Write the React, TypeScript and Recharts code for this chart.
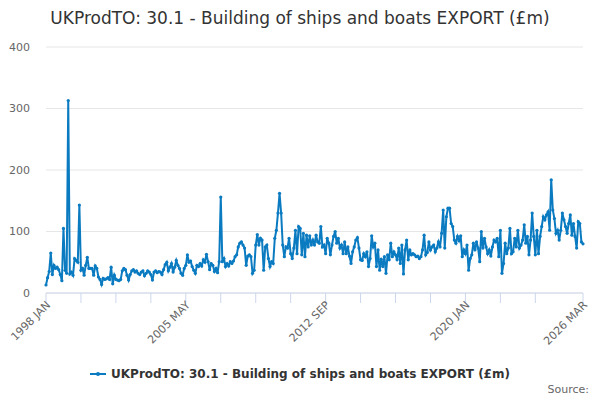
import React from "react";
import { LineChart, Line, XAxis, YAxis, CartesianGrid } from "recharts";

const TITLE = "UKProdTO: 30.1 - Building of ships and boats EXPORT (£m)";
const SERIES_NAME = "UKProdTO: 30.1 - Building of ships and boats EXPORT (£m)";
const MONTHS = ["JAN", "FEB", "MAR", "APR", "MAY", "JUN", "JUL", "AUG", "SEP", "OCT", "NOV", "DEC"];
const START_YEAR = 1998;

const values: number[] = [
  // 1998
  13, 25, 35, 65, 30, 45, 40, 42, 38, 30, 20, 105,
  // 1999
  37, 32, 313, 31, 34, 29, 56, 53, 50, 143, 37, 40,
  // 2000
  29, 45, 58, 40, 40, 40, 29, 44, 40, 26, 22, 14,
  // 2001
  24, 22, 23, 25, 22, 42, 15, 29, 22, 21, 20, 22,
  // 2002
  36, 40, 38, 29, 21, 30, 36, 38, 34, 36, 32, 30,
  // 2003
  34, 36, 28, 32, 36, 34, 30, 21, 34, 36, 33, 35,
  // 2004
  34, 30, 38, 46, 50, 36, 42, 48, 34, 42, 53, 45,
  // 2005
  40, 32, 29, 40, 45, 62, 50, 52, 43, 37, 32, 45,
  // 2006
  43, 48, 44, 54, 50, 63, 51, 38, 48, 45, 35, 40,
  // 2007
  33, 51, 156, 51, 56, 43, 48, 44, 51, 48, 52, 59,
  // 2008
  62, 75, 81, 83, 78, 73, 45, 60, 62, 59, 32, 37,
  // 2009
  78, 95, 78, 89, 86, 37, 75, 78, 56, 43, 51, 48,
  // 2010
  89, 102, 130, 162, 130, 78, 59, 75, 73, 89, 64, 56,
  // 2011
  73, 102, 64, 108, 105, 62, 97, 59, 94, 75, 93, 78,
  // 2012
  86, 78, 94, 83, 81, 108, 75, 78, 64, 89, 81, 62,
  // 2013
  78, 92, 100, 81, 89, 73, 78, 64, 83, 64, 75, 60,
  // 2014
  48, 67, 75, 86, 90, 73, 54, 53, 64, 59, 67, 43,
  // 2015
  56, 93, 75, 81, 43, 70, 37, 55, 43, 59, 32, 62,
  // 2016
  54, 81, 59, 67, 62, 54, 73, 48, 78, 31, 70, 86,
  // 2017
  54, 70, 62, 64, 62, 59, 60, 56, 59, 70, 94, 62,
  // 2018
  66, 83, 70, 75, 78, 67, 73, 83, 75, 97, 135, 73,
  // 2019
  124, 138, 138, 113, 108, 86, 81, 92, 85, 93, 59, 70,
  // 2020
  64, 78, 37, 56, 62, 81, 70, 83, 73, 51, 100, 73,
  // 2021
  89, 75, 64, 70, 60, 75, 86, 83, 89, 59, 102, 32,
  // 2022
  48, 81, 64, 73, 105, 64, 67, 89, 75, 102, 73, 78,
  // 2023
  86, 111, 81, 92, 62, 86, 130, 92, 62, 102, 64, 92,
  // 2024
  108, 124, 119, 127, 132, 102, 184, 135, 121, 97, 102, 86,
  // 2025
  102, 130, 119, 108, 97, 113, 127, 94, 113, 92, 73, 116,
  // 2026
  113, 83, 80,
];

const categories: string[] = values.map(
  (_, i) => `${START_YEAR + Math.floor(i / 12)} ${MONTHS[i % 12]}`
);

const tickLabels = ["1998 JAN", "2005 MAY", "2012 SEP", "2020 JAN", "2026 MAR"];
const tickMarks = [
  "1998 JAN", "1999 NOV", "2001 SEP", "2003 JUL", "2005 MAY", "2007 MAR", "2009 JAN", "2010 NOV",
  "2012 SEP", "2014 JUL", "2016 MAY", "2018 MAR", "2020 JAN", "2021 NOV", "2023 SEP", "2026 MAR",
];
const yTicks = [0, 100, 200, 300, 400];

const data = categories.map((label, i) => ({ label, value: values[i] }));

const COLOR = "#0b7bc1";
const FONT = "'DejaVu Sans', sans-serif";

const XTick = (props: any) => {
  const { x, y, payload } = props;
  if (!tickLabels.includes(payload.value)) return <g />;
  return (
    <text
      x={x}
      y={y}
      transform={`rotate(-45, ${x}, ${y})`}
      textAnchor="end"
      fontSize={11}
      fill="#666666"
      fontFamily={FONT}
      dy={4}
      dx={3}
    >
      {payload.value}
    </text>
  );
};

export default function App() {
  return (
    <div style={{ position: "fixed", left: 0, top: 0, width: 600, height: 400, background: "#fff", fontFamily: FONT }}>
      <div
        style={{
          position: "absolute",
          top: 8,
          left: 0,
          width: 600,
          textAlign: "center",
          fontSize: 17,
          color: "#333333",
        }}
      >
        {TITLE}
      </div>
      <LineChart
        width={600}
        height={400}
        data={data}
        margin={{ top: 47, right: 17, bottom: 47, left: 0 }}
      >
        <CartesianGrid horizontal vertical={false} stroke="#e6e6e6" />
        <XAxis
          dataKey="label"
          ticks={tickMarks}
          interval={0}
          height={60}
          tick={<XTick />}
          tickSize={10}
          tickMargin={2}
          stroke="#ccd6eb"
          tickLine={{ stroke: "#ccd6eb" }}
          axisLine={{ stroke: "#ccd6eb" }}
        />
        <YAxis
          domain={[0, 400]}
          ticks={yTicks}
          width={46}
          tickSize={0}
          tickMargin={16}
          axisLine={false}
          tickLine={false}
          tick={{ fontSize: 11, fill: "#666666", fontFamily: FONT }}
        />
        <Line
          type="linear"
          dataKey="value"
          stroke={COLOR}
          strokeWidth={2}
          dot={{ r: 1.6, fill: COLOR, stroke: COLOR, strokeWidth: 0 }}
          isAnimationActive={false}
        />
      </LineChart>
      <div
        style={{
          position: "absolute",
          top: 367,
          left: 0,
          width: 600,
          display: "flex",
          justifyContent: "center",
          alignItems: "center",
          fontSize: 12,
          fontWeight: "bold",
          color: "#333333",
        }}
      >
        <svg width={16} height={10} style={{ marginRight: 5 }}>
          <line x1={0} y1={5} x2={16} y2={5} stroke={COLOR} strokeWidth={2} />
          <circle cx={8} cy={5} r={2} fill={COLOR} />
        </svg>
        <span>{SERIES_NAME}</span>
      </div>
      <div
        style={{
          position: "absolute",
          top: 383,
          right: 11,
          fontSize: 11,
          color: "#666666",
        }}
      >
        Source:
      </div>
    </div>
  );
}
